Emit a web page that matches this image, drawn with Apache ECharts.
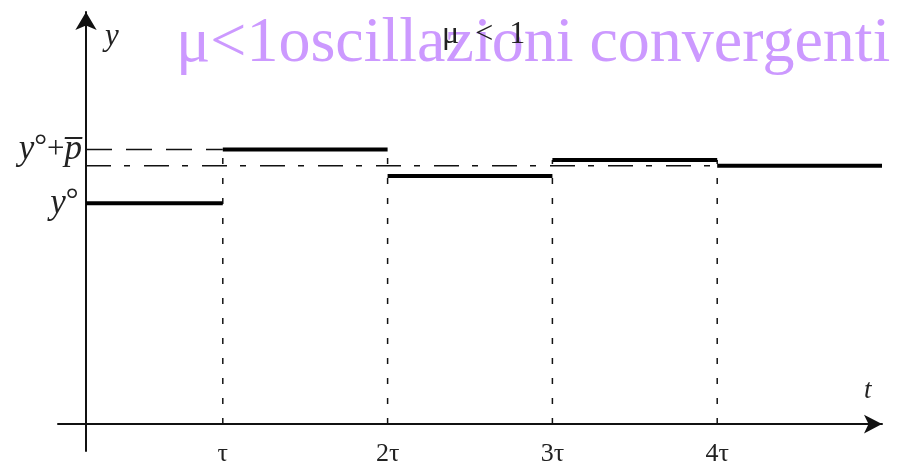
<!DOCTYPE html>
<html>
<head>
<meta charset="utf-8">
<script src="https://cdn.jsdelivr.net/npm/echarts@6/dist/echarts.min.js"></script>
<style>
  html, body { margin: 0; padding: 0; background: #fff; }
  #chart { width: 897px; height: 466px; }
</style>
</head>
<body>
<div id="chart"></div>
<script>
// Piecewise-constant response y(t) sampled every τ (time measured in units of τ).
const axisCrossTime = 0.17;               // where the vertical axis crosses the time axis
const stepTimes = [axisCrossTime, 1, 2, 3, 4, 5];
const stepLevels = [1.0, 1.244, 1.124, 1.196, 1.17];
const yStart = 1.0;       // y°
const yPeak = 1.244;      // y° + p̄
const yLimit = 1.17;      // asymptotic level

const tickValues = [1, 2, 3, 4];
const tickLabels = ['τ', '2τ', '3τ', '4τ'];

const titleText = 'μ<1oscillazioni convergenti';
const overlayText = 'μ  <  1';

const SERIF = '"Liberation Serif", "DejaVu Serif", serif';
const INK = '#111';

const chart = echarts.init(document.getElementById('chart'), null, { renderer: 'canvas' });

function seg(points, style, z) {
  return {
    type: 'line', data: points, symbol: 'none', silent: true, z: z,
    lineStyle: style, animation: false
  };
}

const series = [];
// limit level (dash-dot)
series.push(seg([[stepTimes[0], yLimit], [stepTimes[stepTimes.length - 1], yLimit]],
  { color: INK, width: 1.5, type: [25, 13, 6, 14], cap: 'butt' }, 2));
// first overshoot level (dashed) up to τ
series.push(seg([[stepTimes[0], yPeak], [tickValues[0], yPeak]],
  { color: INK, width: 1.5, type: [26, 14], cap: 'butt' }, 2));
// dotted verticals at every switching instant
tickValues.forEach((t, k) => {
  const top = Math.max(stepLevels[k], stepLevels[k + 1]);
  series.push(seg([[t, 0], [t, top]],
    { color: INK, width: 1.5, type: [6, 14], cap: 'butt' }, 2));
});
// held levels
stepLevels.forEach((lv, i) => {
  series.push(seg([[stepTimes[i], lv], [stepTimes[i + 1], lv]],
    { color: '#000', width: 4, cap: 'butt' }, 5));
});

const richY = {
  i: { fontFamily: SERIF, fontStyle: 'italic', fontSize: 35, color: '#222' },
  r: { fontFamily: SERIF, fontSize: 31, color: '#222' },
  s: { fontFamily: SERIF, fontSize: 32, color: '#222', verticalAlign: 'top' }
};

chart.setOption({
  animation: false,
  backgroundColor: '#fff',
  title: [
    {
      text: titleText, left: 171, top: 7,
      textStyle: { fontFamily: SERIF, fontWeight: 'normal', fontSize: 64, color: '#cc99ff' }
    },
    {
      text: overlayText, left: 437, top: 14,
      textStyle: { fontFamily: SERIF, fontWeight: 'normal', fontSize: 32, color: '#222' }
    }
  ],
  grid: { left: 58, right: 15, top: 12, bottom: 15, outerBoundsMode: 'none' },
  xAxis: {
    type: 'value', min: 0, max: 5,
    name: 't', nameLocation: 'end', nameGap: -18,
    nameTextStyle: { fontFamily: SERIF, fontStyle: 'italic', fontSize: 27, color: '#222', verticalAlign: 'bottom', lineHeight: 66 },
    axisLine: { onZero: true, symbol: ['none', 'arrow'], symbolSize: [14, 18], lineStyle: { color: INK, width: 2 } },
    axisTick: { show: false },
    splitLine: { show: false },
    axisLabel: {
      customValues: tickValues,
      formatter: v => tickLabels[tickValues.indexOf(v)],
      fontFamily: SERIF, fontSize: 26, color: '#222', margin: -10
    }
  },
  yAxis: {
    type: 'value', min: -0.122, max: 1.867, offset: -28,
    name: 'y', nameLocation: 'end', nameGap: -40,
    nameTextStyle: { fontFamily: SERIF, fontStyle: 'italic', fontSize: 31, color: '#222', align: 'left', padding: [0, 0, 0, 19] },
    axisLine: { onZero: false, symbol: ['none', 'arrow'], symbolSize: [16, 18], lineStyle: { color: INK, width: 2 } },
    axisTick: { show: false },
    splitLine: { show: false },
    axisLabel: {
      customValues: [yStart, yPeak],
      margin: 4,
      formatter: v => v === yPeak ? '{i|y}{s|°}{r|+}{i|p̅}' : '{i|y}{s|°} ',
      rich: richY
    }
  },
  series: series
});
</script>
</body>
</html>
